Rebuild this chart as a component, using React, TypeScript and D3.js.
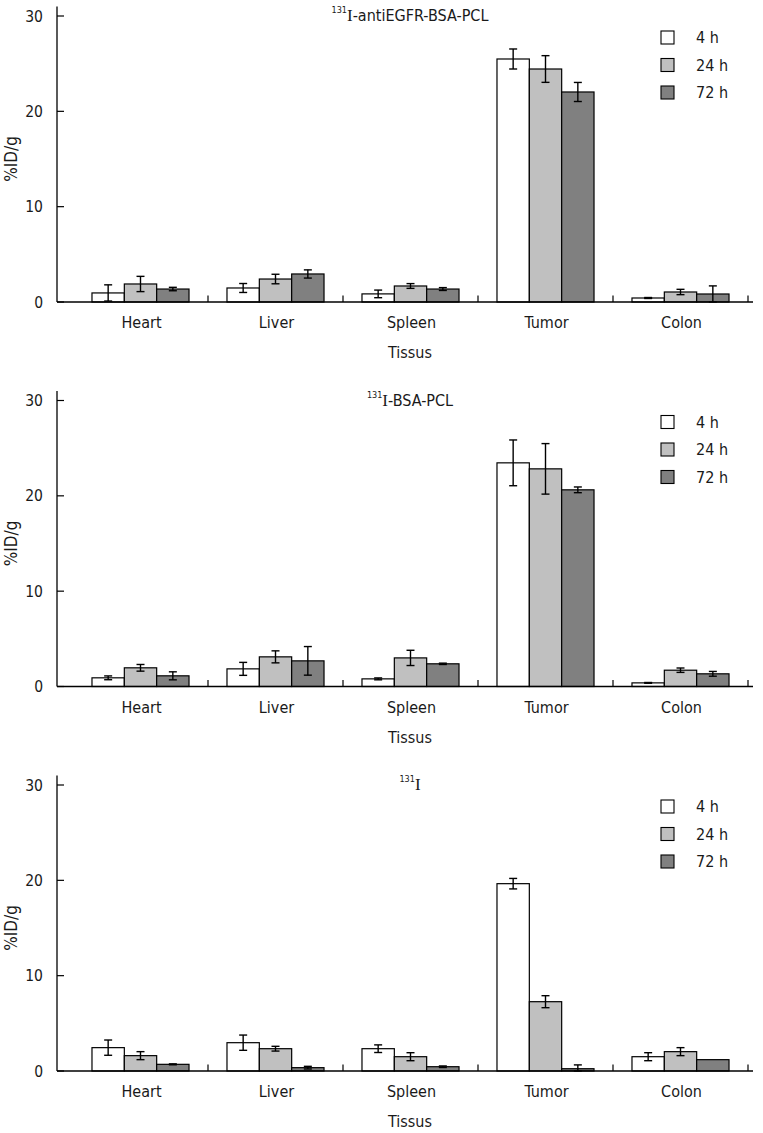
import { useRef, useEffect } from 'react';
import * as d3 from 'd3';

const tissues = ['Heart', 'Liver', 'Spleen', 'Tumor', 'Colon'];
const times = ['4 h', '24 h', '72 h'];
const fills = ['#ffffff', '#c0c0c0', '#808080'];
const yTicks = [0, 10, 20, 30];

// rows: 4 h, 24 h, 72 h ; columns follow `tissues`
const egfrMeans = [
  [0.95, 1.47, 0.85, 25.49, 0.42],
  [1.89, 2.41, 1.68, 24.44, 1.05],
  [1.36, 2.94, 1.36, 22.03, 0.84],
];
const egfrErrs = [
  [0.85, 0.47, 0.4, 1.05, 0.05],
  [0.8, 0.5, 0.25, 1.4, 0.28],
  [0.18, 0.43, 0.15, 1.0, 0.85],
];
const bsaMeans = [
  [0.91, 1.85, 0.8, 23.46, 0.38],
  [1.96, 3.11, 3.0, 22.83, 1.71],
  [1.12, 2.69, 2.38, 20.63, 1.33],
];
const bsaErrs = [
  [0.2, 0.68, 0.1, 2.4, 0.04],
  [0.35, 0.63, 0.8, 2.65, 0.23],
  [0.42, 1.5, 0.07, 0.3, 0.25],
];
const iodMeans = [
  [2.45, 2.97, 2.34, 19.65, 1.5],
  [1.61, 2.34, 1.5, 7.27, 2.03],
  [0.7, 0.35, 0.45, 0.24, 1.19],
];
const iodErrs = [
  [0.8, 0.8, 0.4, 0.55, 0.42],
  [0.42, 0.25, 0.42, 0.63, 0.42],
  [0.05, 0.14, 0.08, 0.4, 0],
];

const panels = [
  { suffix: '-antiEGFR-BSA-PCL', means: egfrMeans, errs: egfrErrs },
  { suffix: '-BSA-PCL', means: bsaMeans, errs: bsaErrs },
  { suffix: '', means: iodMeans, errs: iodErrs },
];

const FONT = '"DejaVu Sans Condensed", "DejaVu Sans", Verdana, sans-serif';

export default function App() {
  const svgRef = useRef<SVGSVGElement>(null);

  useEffect(() => {
    document.body.style.margin = '0';
    if (!svgRef.current) return;
    const root = d3.select(svgRef.current);
    root.selectAll('*').remove();

    const axisX = 57;
    const x = d3.scaleBand().domain(tissues).range([73, 748]).paddingInner(0).paddingOuter(0);
    const xs = d3.scaleBand().domain(times).range([0, x.bandwidth()]).paddingInner(0).paddingOuter(0.587);
    const y = d3.scaleLinear().domain([0, 30]).range([302, 16]);

    panels.forEach((p, k) => {
      const g = root.append('g').attr('transform', `translate(0,${k * 384.5})`)
        .attr('font-family', FONT).attr('font-stretch', 'condensed')
        .attr('font-size', 16).attr('fill', '#1a1a1a');

      // bars
      p.means.forEach((row, ti) => {
        row.forEach((v, ci) => {
          const bx = (x(tissues[ci]) ?? 0) + (xs(times[ti]) ?? 0);
          g.append('rect')
            .attr('x', bx).attr('y', y(v))
            .attr('width', xs.bandwidth()).attr('height', y(0) - y(v))
            .attr('fill', fills[ti]).attr('stroke', '#000').attr('stroke-width', 1.2);
          const e = p.errs[ti][ci];
          if (e > 0) {
            const cx = bx + xs.bandwidth() / 2;
            const lo = y(Math.max(0, v - e));
            const hi = y(v + e);
            const eg = g.append('g').attr('stroke', '#000').attr('stroke-width', 1.4);
            eg.append('line').attr('x1', cx).attr('x2', cx).attr('y1', hi).attr('y2', lo);
            eg.append('line').attr('x1', cx - 4).attr('x2', cx + 4).attr('y1', hi).attr('y2', hi);
            eg.append('line').attr('x1', cx - 4).attr('x2', cx + 4).attr('y1', lo).attr('y2', lo);
          }
        });
      });

      // y axis
      g.append('line').attr('x1', axisX).attr('x2', axisX).attr('y1', y(31)).attr('y2', y(0))
        .attr('stroke', '#000').attr('stroke-width', 1.3);
      yTicks.forEach((t) => {
        g.append('line').attr('x1', axisX).attr('x2', axisX + 7).attr('y1', y(t)).attr('y2', y(t))
          .attr('stroke', '#000').attr('stroke-width', 1.2);
        g.append('text').attr('x', 43).attr('y', y(t)).attr('dy', '0.36em')
          .attr('text-anchor', 'end').attr('font-size', 15.5).text(String(t));
      });

      // x axis
      g.append('line').attr('x1', axisX).attr('x2', 753).attr('y1', y(0)).attr('y2', y(0))
        .attr('stroke', '#000').attr('stroke-width', 1.3);
      tissues.forEach((c) => {
        const tx = (x(c) ?? 0) + x.bandwidth();
        g.append('line').attr('x1', tx).attr('x2', tx).attr('y1', y(0)).attr('y2', y(0) - 6.5)
          .attr('stroke', '#000').attr('stroke-width', 1.2);
        g.append('text').attr('x', (x(c) ?? 0) + x.bandwidth() / 2 + 1).attr('y', 328)
          .attr('text-anchor', 'middle').text(c);
      });
      g.append('text').attr('x', 410).attr('y', 358).attr('text-anchor', 'middle').text('Tissus');

      g.append('text').attr('transform', `translate(17,${y(15)}) rotate(-90)`)
        .attr('text-anchor', 'middle').attr('font-size', 17).text('%ID/g');

      // title
      const title = g.append('text').attr('x', 410).attr('y', 21).attr('text-anchor', 'middle');
      title.append('tspan').attr('font-size', 9).attr('dy', -8).text('131');
      title.append('tspan').attr('font-family', '"Liberation Serif", "Times New Roman", serif')
        .attr('font-size', 17).attr('dy', 8).text('I');
      if (p.suffix) title.append('tspan').text(p.suffix);

      // legend
      times.forEach((t, i) => {
        const ly = 31 + i * 27.5;
        g.append('rect').attr('x', 661).attr('y', ly).attr('width', 13).attr('height', 13)
          .attr('fill', fills[i]).attr('stroke', '#000').attr('stroke-width', 1.1);
        g.append('text').attr('x', 696).attr('y', ly + 12).text(t);
      });
    });
  }, []);

  return <svg ref={svgRef} width={763} height={1133} style={{ display: 'block', background: '#fff' }} />;
}
